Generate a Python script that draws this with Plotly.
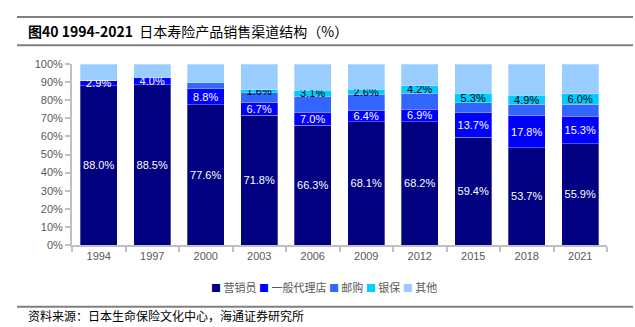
import plotly.graph_objects as go

years = ["1994", "1997", "2000", "2003", "2006", "2009", "2012", "2015", "2018", "2021"]
sales_staff = [88.0, 88.5, 77.6, 71.8, 66.3, 68.1, 68.2, 59.4, 53.7, 55.9]
agency = [2.9, 4.0, 8.8, 6.7, 7.0, 6.4, 6.9, 13.7, 17.8, 15.3]
mail = [0.0, 0.0, 3.3, 5.7, 9.0, 8.9, 8.8, 5.4, 6.4, 6.5]
bank = [0.0, 0.0, 0.0, 1.6, 3.1, 2.6, 4.2, 5.3, 4.9, 6.0]
other = [9.1, 7.5, 10.3, 14.2, 14.6, 14.0, 11.9, 16.2, 17.2, 16.3]

series_names = ["营销员", "一般代理店", "邮购", "银保", "其他"]
series_values = [sales_staff, agency, mail, bank, other]
colors = ["#000080", "#0000FF", "#3366FF", "#00CCFF", "#99CCFF"]
show_labels = [True, True, False, True, False]
label_colors = ["white", "white", "black", "black", "black"]

fig = go.Figure()
for name, vals, col, show, lc in zip(series_names, series_values, colors, show_labels, label_colors):
    texts = [f"{v:.1f}%" if (show and v > 0) else "" for v in vals]
    fig.add_trace(go.Bar(
        x=years, y=vals, name=name,
        marker=dict(color=col, line=dict(color="rgba(255,255,255,0.6)", width=0.5)),
        text=texts, textposition="inside", insidetextanchor="middle",
        textangle=0,
        textfont=dict(color=lc, size=11, family="Liberation Sans, Arial, sans-serif"),
        hoverinfo="skip", showlegend=False,
    ))

L, R, T, B = 72, 607, 64.3, 245.0
W, H = 635, 327
def px(xp):
    return (xp - L) / (R - L)
def py(yp):
    return (B - yp) / (B - T)

fig.update_layout(
    width=W, height=H,
    margin=dict(l=L, r=W - R, t=T, b=H - B, pad=0),
    barmode="stack", bargap=0.31,
    plot_bgcolor="white", paper_bgcolor="white",
    uniformtext=dict(minsize=11, mode="show"),
    font=dict(family="Liberation Sans, Arial, sans-serif", size=11, color="#595959"),
    showlegend=False,
    xaxis=dict(type="category", showline=True, linecolor="#c0c0c0", linewidth=2,
               ticks="outside", tickson="boundaries", ticklen=5, tickcolor="#c0c0c0", tickwidth=2,
               tickfont=dict(size=11, color="#595959"), showgrid=False, fixedrange=True),
    yaxis=dict(range=[0, 100], dtick=10, ticksuffix="%", showline=True, linecolor="#c0c0c0",
               linewidth=2, ticks="outside", ticklen=5, tickcolor="#c0c0c0", tickwidth=2,
               tickfont=dict(size=11, color="#595959"), showgrid=False, zeroline=False,
               fixedrange=True),
)

# custom compact legend built from the series names / colours
parts = []
for name, col in zip(series_names, colors):
    parts.append(f'<span style="color:{col};font-size:10px">■</span> {name}')
legend_text = " ".join(parts)
fig.add_annotation(xref="paper", yref="paper", x=px(324), y=py(287), xanchor="center", yanchor="middle",
                   showarrow=False, text=legend_text,
                   font=dict(family="Noto Sans CJK SC", size=11, color="#595959"))

line_style = dict(color="#7f7f7f", width=2)
for yline in [17.3, 45.7, 306.7]:
    fig.add_shape(type="line", xref="paper", yref="paper",
                  x0=px(17), x1=px(633), y0=py(yline), y1=py(yline), line=line_style)

fig.add_annotation(xref="paper", yref="paper", x=px(26), y=py(31.5), xanchor="left", yanchor="middle",
                   showarrow=False,
                   text="<b>图40 1994-2021</b>  日本寿险产品销售渠道结构（%）",
                   font=dict(family="Noto Sans CJK SC", size=14, color="#000000"))
fig.add_annotation(xref="paper", yref="paper", x=px(26), y=py(315), xanchor="left", yanchor="middle",
                   showarrow=False,
                   text="资料来源：日本生命保险文化中心，海通证券研究所",
                   font=dict(family="Noto Sans CJK SC", size=12, color="#000000"))

fig.write_html("out.html")
